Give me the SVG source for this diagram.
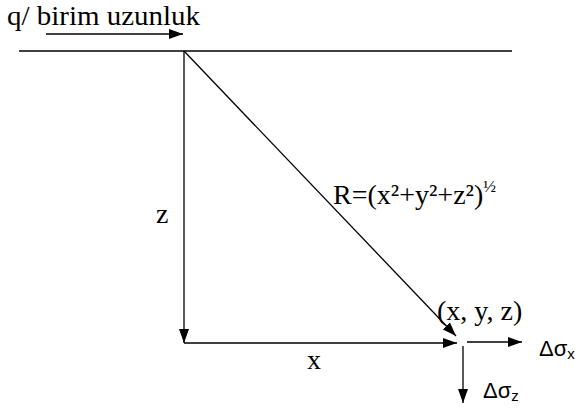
<svg xmlns="http://www.w3.org/2000/svg" width="585" height="412" viewBox="0 0 585 412">
<defs>
<style>
.ln{stroke:#000;stroke-width:1.3;fill:none}
.ar{marker-end:url(#ah)}
.t{font-family:"Liberation Serif","Times New Roman",serif;font-size:28px;fill:#000}
.s{font-family:"Liberation Sans",Arial,sans-serif;font-size:22px;fill:#000}
</style>
<marker id="ah" viewBox="0 0 14 10" refX="14" refY="5" markerWidth="14" markerHeight="10" markerUnits="userSpaceOnUse" orient="auto">
<path d="M0,0 L14,5 L0,10 Z" fill="#000"/>
</marker>
</defs>
<rect width="585" height="412" fill="#fff"/>
<g id="connectors">
<line class="ln ar" x1="46" y1="34" x2="183" y2="34"/>
<line class="ln" x1="19" y1="51" x2="512" y2="51"/>
<line class="ln ar" x1="184" y1="51" x2="184" y2="343"/>
<line class="ln ar" x1="184" y1="343" x2="457" y2="343"/>
<line class="ln ar" x1="184" y1="51" x2="456" y2="336"/>
<line class="ln ar" x1="467" y1="342" x2="522" y2="342"/>
<line class="ln ar" x1="463" y1="346" x2="463" y2="403"/>
</g>
<g id="load"><text class="t" x="7" y="25" textLength="193" lengthAdjust="spacingAndGlyphs">q/ birim uzunluk</text></g>
<g id="z-label"><text class="t" x="156" y="223">z</text></g>
<g id="x-label"><text class="t" x="307" y="369">x</text></g>
<g id="R-label"><text class="t" x="333" y="204">R=(x²+y²+z²)<tspan font-size="17" dy="-12">½</tspan></text></g>
<g id="point"><text class="t" x="437" y="320">(x, y, z)</text></g>
<g id="dsx"><text class="s" x="539" y="356">Δσ<tspan font-size="15" dy="3">x</tspan></text></g>
<g id="dsz"><text class="s" x="483" y="398">Δσ<tspan font-size="15" dy="3">z</tspan></text></g>
</svg>
